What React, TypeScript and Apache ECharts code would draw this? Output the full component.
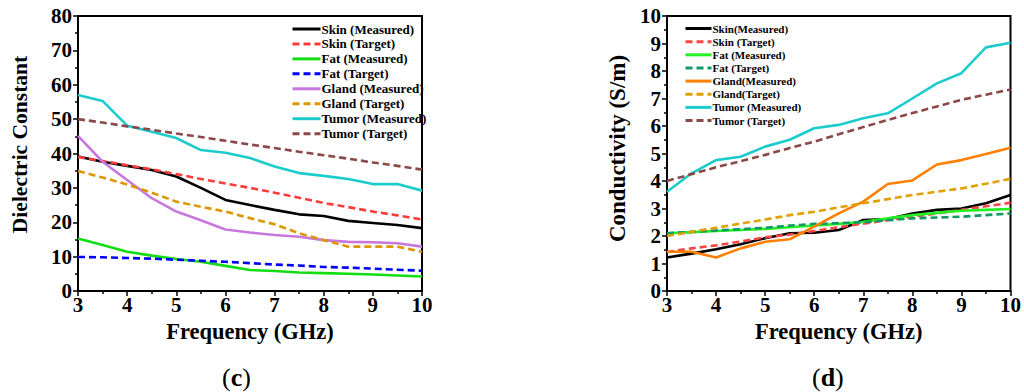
import React, { useEffect, useRef } from "react";
import * as echarts from "echarts";

const freq = [3, 3.5, 4, 4.5, 5, 5.5, 6, 6.5, 7, 7.5, 8, 8.5, 9, 9.5, 10];

// (c) Dielectric constant
const skinMeasuredEps = [39.1, 37.6, 36.4, 35.2, 33.3, 30.0, 26.5, 25.0, 23.6, 22.3, 21.8, 20.4, 19.8, 19.2, 18.3];
const skinTargetEps = [39, 37.8, 36.6, 35.4, 34, 32.6, 31.3, 30, 28.6, 27.1, 25.6, 24.4, 23.1, 22, 20.8];
const fatMeasuredEps = [15.3, 13.4, 11.4, 10.3, 9.3, 8.5, 7.3, 6.1, 5.8, 5.4, 5.2, 5.0, 4.8, 4.5, 4.2];
const fatTargetEps = [9.9, 9.8, 9.6, 9.4, 9.1, 8.8, 8.5, 8.1, 7.7, 7.4, 7.0, 6.8, 6.5, 6.2, 5.9];
const glandMeasuredEps = [45.1, 37.6, 32.3, 27.0, 23.1, 20.6, 17.9, 17.0, 16.3, 15.8, 14.8, 14.3, 14.2, 13.9, 12.9];
const glandTargetEps = [34.9, 33.0, 31.0, 28.6, 26.0, 24.5, 23.1, 21.2, 19.4, 16.8, 14.8, 12.9, 12.9, 12.9, 11.4];
const tumorMeasuredEps = [57.0, 55.3, 48.1, 46.3, 44.5, 41.0, 40.2, 38.7, 36.2, 34.3, 33.5, 32.6, 31.1, 31.1, 29.2];
const tumorTargetEps = [50, 49, 47.9, 46.9, 45.8, 44.8, 43.7, 42.6, 41.6, 40.5, 39.5, 38.5, 37.4, 36.4, 35.3];

// (d) Conductivity
const skinMeasuredSig = [1.22, 1.36, 1.52, 1.7, 1.92, 2.1, 2.12, 2.22, 2.58, 2.62, 2.82, 2.95, 3.0, 3.19, 3.49];
const skinTargetSig = [1.42, 1.55, 1.66, 1.8, 1.95, 2.05, 2.18, 2.32, 2.45, 2.58, 2.7, 2.82, 2.95, 3.08, 3.21];
const fatMeasuredSig = [2.1, 2.14, 2.18, 2.22, 2.26, 2.32, 2.38, 2.44, 2.52, 2.64, 2.76, 2.84, 2.92, 2.95, 2.98];
const fatTargetSig = [2.1, 2.15, 2.2, 2.25, 2.3, 2.38, 2.44, 2.47, 2.5, 2.57, 2.64, 2.67, 2.7, 2.76, 2.82];
const glandMeasuredSig = [1.43, 1.43, 1.22, 1.55, 1.79, 1.88, 2.34, 2.82, 3.25, 3.89, 4.02, 4.6, 4.76, 4.98, 5.21];
const glandTargetSig = [2.0, 2.15, 2.3, 2.45, 2.6, 2.76, 2.88, 3.04, 3.19, 3.34, 3.49, 3.61, 3.73, 3.9, 4.08];
const tumorMeasuredSig = [3.61, 4.28, 4.76, 4.88, 5.25, 5.5, 5.92, 6.04, 6.28, 6.46, 7.0, 7.55, 7.92, 8.86, 9.03];
const tumorTargetSig = [4.0, 4.25, 4.5, 4.72, 4.95, 5.2, 5.43, 5.7, 5.96, 6.22, 6.47, 6.71, 6.95, 7.14, 7.33];

const namesC = ["Skin (Measured)", "Skin (Target)", "Fat (Measured)", "Fat (Target)", "Gland (Measured)", "Gland (Target)", "Tumor (Measured)", "Tumor (Target)"];
const namesD = ["Skin(Measured)", "Skin (Target)", "Fat (Measured)", "Fat (Target)", "Gland(Measured)", "Gland(Target)", "Tumor (Measured)", "Tumor (Target)"];

const FONT = "'Liberation Serif', 'Times New Roman', serif";

function pairs(vals: number[]) {
  return freq.map((f, i) => [f, vals[i]]);
}

function mkSeries(name: string, vals: number[], color: string, dashed: boolean) {
  return {
    type: "line",
    name,
    data: pairs(vals),
    symbol: "circle",
    showSymbol: false,
    lineStyle: { color, width: 2.6, type: dashed ? [7, 4] : "solid" },
    itemStyle: { color },
  };
}

function axisCommon() {
  return {
    axisLine: { show: true, onZero: false, lineStyle: { color: "#000", width: 2 } },
    axisTick: { show: true, inside: false, length: 5, lineStyle: { color: "#000", width: 1.5 } },
    minorTick: { show: true, splitNumber: 2, length: 3, lineStyle: { color: "#000", width: 1.5 } },
    splitLine: { show: false },
    minorSplitLine: { show: false },
    axisLabel: { color: "#000", fontFamily: FONT, fontWeight: "bold", fontSize: 21 },
  };
}

function buildOption(cfg: any) {
  const ax = axisCommon();
  return {
    animation: false,
    backgroundColor: "transparent",
    grid: {
      left: cfg.gridLeft, top: 16, width: cfg.gridWidth, height: 275,
      show: true, borderColor: "#000", borderWidth: 2, backgroundColor: "transparent",
    },
    legend: {
      orient: "vertical",
      left: cfg.legendLeft,
      top: cfg.legendTop,
      padding: 0,
      itemWidth: cfg.iconW,
      itemHeight: cfg.rowH,
      itemGap: cfg.rowGap,
      data: cfg.names,
      itemStyle: { opacity: 0 },
      textStyle: { color: "#000", fontFamily: FONT, fontWeight: "bold", fontSize: cfg.legendFont, lineHeight: cfg.rowH, padding: [0, 0, 0, -4] },
      lineStyle: { width: 3 },
    },
    xAxis: {
      type: "value", min: 3, max: 10, interval: 1,
      name: "Frequency (GHz)", nameLocation: "middle", nameGap: 21,
      ...ax,
      nameTextStyle: { color: "#000", fontFamily: FONT, fontWeight: "bold", fontSize: 22.5 },
      axisLabel: { ...ax.axisLabel, margin: 3 },
    },
    yAxis: {
      type: "value", min: 0, max: cfg.yMax, interval: cfg.yInterval,
      name: cfg.yName, nameLocation: "middle", nameGap: cfg.yNameGap,
      ...ax,
      nameTextStyle: { color: "#000", fontFamily: FONT, fontWeight: "bold", fontSize: cfg.yNameFont, padding: [0, 0, 0, cfg.yNameShift] },
      axisLabel: { ...ax.axisLabel, margin: 6 },
    },
    graphic: [
      {
        type: "text",
        left: cfg.capX - 16,
        top: 364,
        style: {
          text: "{p|(}{b|" + cfg.cap + "}{p|)}",
          rich: {
            p: { fontFamily: FONT, fontSize: 26, fill: "#000" },
            b: { fontFamily: FONT, fontSize: 26, fontWeight: "bold", fill: "#000" },
          },
        },
      },
    ],
    series: cfg.series,
  };
}

function Chart({ option, style }: { option: any; style: React.CSSProperties }) {
  const ref = useRef<HTMLDivElement>(null);
  useEffect(() => {
    if (!ref.current) return;
    const chart = echarts.init(ref.current, null, { renderer: "svg" });
    chart.setOption(option);
    return () => chart.dispose();
  }, [option]);
  return <div ref={ref} style={style} />;
}

const optionC = buildOption({
  gridLeft: 78, gridWidth: 344,
  legendLeft: 291, legendTop: 22, iconW: 28, rowH: 14, rowGap: 0.95, legendFont: 13,
  names: namesC,
  yMax: 80, yInterval: 10, yName: "Dielectric Constant", yNameGap: 47, yNameFont: 21.5, yNameShift: 18,
  capX: 238, cap: "c",
  series: [
    mkSeries(namesC[0], skinMeasuredEps, "#000000", false),
    mkSeries(namesC[1], skinTargetEps, "#FF3C3C", true),
    mkSeries(namesC[2], fatMeasuredEps, "#11DD11", false),
    mkSeries(namesC[3], fatTargetEps, "#0000FF", true),
    mkSeries(namesC[4], glandMeasuredEps, "#C878DC", false),
    mkSeries(namesC[5], glandTargetEps, "#DC9600", true),
    mkSeries(namesC[6], tumorMeasuredEps, "#1CCCCC", false),
    mkSeries(namesC[7], tumorTargetEps, "#8B4848", true),
  ],
});

const optionD = buildOption({
  gridLeft: 127, gridWidth: 344,
  legendLeft: 144, legendTop: 22, iconW: 26, rowH: 13, rowGap: 0.15, legendFont: 11,
  names: namesD,
  yMax: 10, yInterval: 1, yName: "Conductivity (S/m)", yNameGap: 37, yNameFont: 23, yNameShift: 10,
  capX: 288, cap: "d",
  series: [
    mkSeries(namesD[0], skinMeasuredSig, "#000000", false),
    mkSeries(namesD[1], skinTargetSig, "#FF4444", true),
    mkSeries(namesD[2], fatMeasuredSig, "#22F022", false),
    mkSeries(namesD[3], fatTargetSig, "#119966", true),
    mkSeries(namesD[4], glandMeasuredSig, "#FF8000", false),
    mkSeries(namesD[5], glandTargetSig, "#E0A000", true),
    mkSeries(namesD[6], tumorMeasuredSig, "#1CCCCC", false),
    mkSeries(namesD[7], tumorTargetSig, "#8B4848", true),
  ],
});

export default function App() {
  return (
    <div style={{ position: "fixed", left: 0, top: 0, width: 1024, height: 392, background: "#fff" }}>
      <Chart option={optionC} style={{ position: "absolute", left: 0, top: 0, width: 540, height: 392 }} />
      <Chart option={optionD} style={{ position: "absolute", left: 540, top: 0, width: 484, height: 392 }} />
    </div>
  );
}
